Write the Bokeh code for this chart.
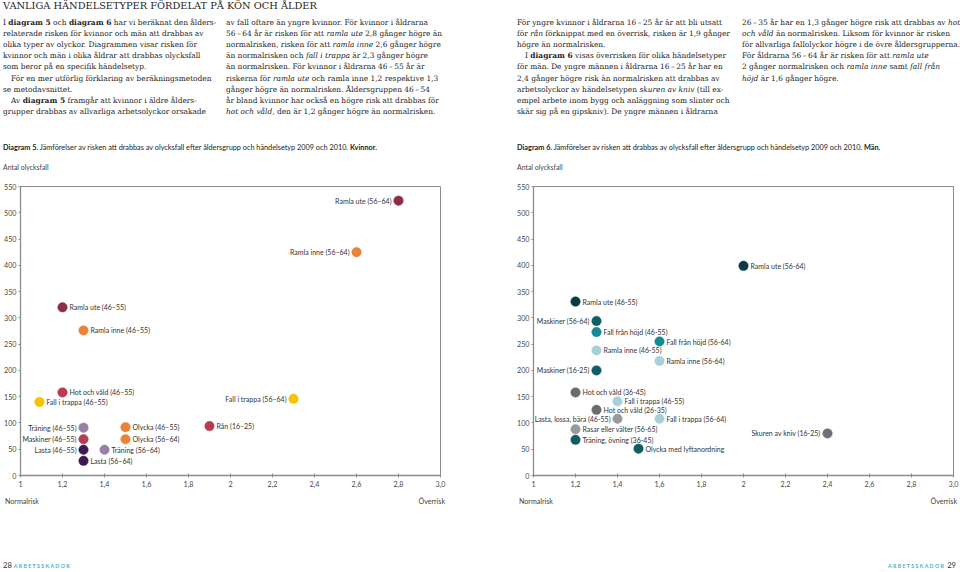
from bokeh.plotting import figure
from bokeh.models import Range1d, Div, FixedTicker, ColumnDataSource
from bokeh.layouts import column, row
from bokeh.core.properties import value
from bokeh.embed import file_html
from bokeh.resources import INLINE

# ---------------- Data: Diagram 5 (Kvinnor) ----------------
labels5 = ["Ramla ute (56–64)", "Ramla inne (56–64)", "Ramla ute (46–55)", "Ramla inne (46–55)",
           "Hot och våld (46–55)", "Fall i trappa (46–55)", "Fall i trappa (56–64)",
           "Träning (46–55)", "Maskiner (46–55)", "Lasta (46–55)", "Lasta (56–64)",
           "Träning (56–64)", "Olycka (46–55)", "Olycka (56–64)", "Rån (16–25)"]
types5 = ["Ramla ute", "Ramla inne", "Ramla ute", "Ramla inne", "Hot och våld", "Fall i trappa",
          "Fall i trappa", "Träning", "Maskiner", "Lasta", "Lasta", "Träning", "Olycka", "Olycka", "Rån"]
risk5 = [2.8, 2.6, 1.2, 1.3, 1.2, 1.09, 2.3, 1.3, 1.3, 1.3, 1.3, 1.4, 1.5, 1.5, 1.9]
count5 = [523, 425, 320, 276, 158, 140, 146, 91, 69, 49, 28, 49, 92, 69, 94]

# ---------------- Data: Diagram 6 (Män) ----------------
labels6 = ["Ramla ute (56-64)", "Ramla ute (46-55)", "Maskiner (56-64)", "Fall från höjd (46-55)",
           "Fall från höjd (56-64)", "Ramla inne (46-55)", "Ramla inne (56-64)", "Maskiner (16-25)",
           "Hot och våld (36-45)", "Fall i trappa (46-55)", "Hot och våld (26-35)",
           "Lasta, lossa, bära (46-55)", "Fall i trappa (56-64)", "Rasar eller välter (56-65)",
           "Träning, övning (36-45)", "Olycka med lyftanordning", "Skuren av kniv (16-25)"]
types6 = ["Ramla ute", "Ramla ute", "Maskiner", "Fall från höjd", "Fall från höjd", "Ramla inne",
          "Ramla inne", "Maskiner", "Hot och våld", "Fall i trappa", "Hot och våld",
          "Lasta, lossa, bära", "Fall i trappa", "Rasar eller välter", "Träning, övning",
          "Olycka med lyftanordning", "Skuren av kniv"]
risk6 = [2.0, 1.2, 1.3, 1.3, 1.6, 1.3, 1.6, 1.3, 1.2, 1.4, 1.3, 1.4, 1.6, 1.2, 1.2, 1.5, 2.4]
count6 = [399, 331, 294, 273, 255, 238, 218, 200, 158, 141, 125, 108, 108, 88, 68, 51, 80]

x_ticks = [1.0, 1.2, 1.4, 1.6, 1.8, 2.0, 2.2, 2.4, 2.6, 2.8, 3.0]
x_tick_labels = ["1", "1,2", "1,4", "1,6", "1,8", "2", "2,2", "2,4", "2,6", "2,8", "3,0"]
y_ticks = [0, 50, 100, 150, 200, 250, 300, 350, 400, 450, 500, 550]

# ---------------- Styles ----------------
colors5 = {"Ramla ute": "#8c2e45", "Ramla inne": "#e8833a", "Hot och våld": "#b93b52",
           "Fall i trappa": "#f6c300", "Träning": "#9a7fa7", "Maskiner": "#b93b52",
           "Lasta": "#3f1953", "Olycka": "#e8833a", "Rån": "#b93b52"}
colors6 = {"Ramla ute": "#0b3a45", "Maskiner": "#0e5e66", "Fall från höjd": "#148b94",
           "Ramla inne": "#a8d0d9", "Hot och våld": "#6b6b6b", "Fall i trappa": "#a8d0d9",
           "Lasta, lossa, bära": "#9a9a9a", "Rasar eller välter": "#9a9a9a",
           "Träning, övning": "#0e5e66", "Olycka med lyftanordning": "#0e5e66",
           "Skuren av kniv": "#707070"}
sides5 = ["left", "left", "right", "right", "right", "right", "left", "left", "left", "left",
          "right", "right", "right", "right", "right"]
sides6 = ["right", "right", "left", "right", "right", "right", "right", "left", "right", "right",
          "right", "left", "right", "right", "right", "right", "left"]

SANS = "Lato"
AX = "#8c8c8c"


def make_chart(risk, count, labels, types, colors, sides, mb_left, mb_right):
    p = figure(width=480, height=320, x_range=Range1d(1, 3), y_range=Range1d(0, 550),
               output_backend="svg", toolbar_location=None,
               min_border_left=mb_left, min_border_right=mb_right,
               min_border_top=10, min_border_bottom=21, margin=0)
    p.background_fill_color = "white"
    p.border_fill_color = "white"
    p.outline_line_color = AX
    p.outline_line_width = 1
    p.grid.visible = False

    p.xaxis.ticker = FixedTicker(ticks=x_ticks)
    p.xaxis.major_label_overrides = dict(zip(x_ticks, x_tick_labels))
    p.yaxis.ticker = FixedTicker(ticks=y_ticks)
    for ax in (p.xaxis[0], p.yaxis[0]):
        ax.axis_line_color = AX
        ax.axis_line_width = 1.3
        ax.major_tick_line_color = AX
        ax.minor_tick_line_color = None
        ax.major_label_text_font = SANS
        ax.major_label_text_font_size = "7.2px"
        ax.major_label_text_color = "#4a4a4a"
    p.xaxis.major_tick_in = 2
    p.xaxis.major_tick_out = 2
    p.xaxis.major_label_standoff = 3
    p.yaxis.major_tick_in = 0
    p.yaxis.major_tick_out = 2
    p.yaxis.major_label_standoff = 2

    src = ColumnDataSource(dict(x=risk, y=count, c=[colors[t] for t in types]))
    p.scatter(x="x", y="y", source=src, size=9.5, fill_color="c", line_color="c",
              line_width=0.5)

    for side, off, align in (("left", -7, "right"), ("right", 7, "left")):
        idx = [i for i, s in enumerate(sides) if s == side]
        s2 = ColumnDataSource(dict(x=[risk[i] for i in idx], y=[count[i] for i in idx],
                                   t=[labels[i] for i in idx]))
        p.text(x="x", y="y", text="t", source=s2, x_offset=off, text_align=align,
               text_baseline="middle", text_font=value(SANS), text_font_size="7px",
               text_color="#333333")
    return p


p5 = make_chart(risk5, count5, labels5, types5, colors5, sides5, 19, 40)
p6 = make_chart(risk6, count6, labels6, types6, colors6, sides6, 53, 7)

# ---------------- Page text ----------------
SERIF = "'DejaVu Serif', serif"
T = "&thinsp;–&thinsp;"
IND = "<span style='padding-left:8px'></span>"

col1 = ["I <b>diagram 5</b> och <b>diagram 6</b> har vi beräknat den ålders-",
        "relaterade risken för kvinnor och män att drabbas av",
        "olika typer av olyckor. Diagrammen visar risken för",
        "kvinnor och män i olika åldrar att drabbas olycksfall",
        "som beror på en specifik händelsetyp.",
        IND + "För en mer utförlig förklaring av beräkningsmetoden",
        "se metodavsnittet.",
        IND + "Av <b>diagram 5</b> framgår att kvinnor i äldre ålders-",
        "grupper drabbas av allvarliga arbetsolyckor orsakade"]
col2 = ["av fall oftare än yngre kvinnor. För kvinnor i åldrarna",
        f"56{T}64 år är risken för att <i>ramla ute</i> 2,8 gånger högre än",
        "normalrisken, risken för att <i>ramla inne</i> 2,6 gånger högre",
        "än normalrisken och <i>fall i trappa</i> är 2,3 gånger högre",
        f"än normalrisken. För kvinnor i åldrarna 46{T}55 år är",
        "riskerna för <i>ramla ute</i> och ramla inne 1,2 respektive 1,3",
        f"gånger högre än normalrisken. Åldersgruppen 46{T}54",
        "år bland kvinnor har också en högre risk att drabbas för",
        "<i>hot och våld</i>, den är 1,2 gånger högre än normalrisken."]
col3 = [f"För yngre kvinnor i åldrarna 16{T}25 år är att bli utsatt",
        "för <i>rån</i> förknippat med en överrisk, risken är 1,9 gånger",
        "högre än normalrisken.",
        IND + "I <b>diagram 6</b> visas överrisken för olika händelsetyper",
        f"för män. De yngre männen i åldrarna 16{T}25 år har en",
        "2,4 gånger högre risk än normalrisken att drabbas av",
        "arbetsolyckor av händelsetypen <i>skuren av kniv</i> (till ex-",
        "empel arbete inom bygg och anläggning som slinter och",
        "skär sig på en gipskniv). De yngre männen i åldrarna"]
col4 = [f"26{T}35 år har en 1,3 gånger högre risk att drabbas av <i>hot</i>",
        "<i>och våld</i> än normalrisken. Liksom för kvinnor är risken",
        "för allvarliga fallolyckor högre i de övre åldersgrupperna.",
        f"För åldrarna 56{T}64 år är risken för att <i>ramla ute</i>",
        "2 gånger normalrisken och <i>ramla inne</i> samt <i>fall från</i>",
        "<i>höjd</i> är 1,6 gånger högre."]


def lines_html(lines, left, top0, lh, fs):
    out = ""
    for i, ln in enumerate(lines):
        out += (f"<div style=\"position:absolute;left:{left}px;top:{top0 + i * lh:.2f}px;"
                f"white-space:nowrap;font-family:{SERIF};font-size:{fs}px;"
                f"line-height:{lh}px;color:#1e1e1e\">{ln}</div>")
    return out


def abs_text(txt, left, top, fs, color="#333", right=None):
    pos = f"left:{left}px;" if right is None else f"right:{right}px;"
    return (f"<div style=\"position:absolute;{pos}top:{top}px;white-space:nowrap;"
            f"font-family:{SANS};font-size:{fs}px;line-height:9px;color:{color}\">{txt}</div>")


LH = 11.1
FS = 7.45
TOP0 = 17
head = "<div style=\"position:relative;width:960px;height:176px;overflow:visible\">"
head += (f"<div style=\"position:absolute;left:3px;top:0px;white-space:nowrap;font-family:{SERIF};"
         f"font-size:9.8px;line-height:12px;color:#1e1e1e\">VANLIGA HÄNDELSETYPER FÖRDELAT PÅ KÖN OCH ÅLDER</div>")
head += lines_html(col1, 3, TOP0, LH, FS)
head += lines_html(col2, 226, TOP0, LH, FS)
head += lines_html(col3, 517, TOP0, LH, FS)
head += lines_html(col4, 742, TOP0, LH, FS)
head += abs_text("<b>Diagram 5.</b> Jämförelser av risken att drabbas av olycksfall efter åldersgrupp "
                 "och händelsetyp 2009 och 2010. <b>Kvinnor.</b>", 3, 142.5, 7.3, "#222")
head += abs_text("<b>Diagram 6.</b> Jämförelser av risken att drabbas av olycksfall efter åldersgrupp "
                 "och händelsetyp 2009 och 2010. <b>Män.</b>", 517, 142.5, 7.3, "#222")
head += abs_text("Antal olycksfall", 3, 162.5, 6.9, "#444")
head += abs_text("Antal olycksfall", 517, 162.5, 6.9, "#444")
head += "</div>"

ABS = "<span style='color:#4fb0bd;font-size:5.3px;font-weight:bold;letter-spacing:1.3px'>ARBETSSKADOR</span>"
foot = "<div style=\"position:relative;width:960px;height:75px;overflow:visible\">"
foot += abs_text("Normalrisk", 5, 0.5, 7.1, "#444")
foot += abs_text("Överrisk", 0, 0.5, 7.1, "#444", right=960 - 445)
foot += abs_text("Normalrisk", 519, 0.5, 7.1, "#444")
foot += abs_text("Överrisk", 0, 0.5, 7.1, "#444", right=3)
foot += abs_text("28 " + ABS, 3, 65, 7.6, "#333")
foot += abs_text(ABS + " 29", 0, 65, 7.6, "#333", right=4)
foot += "</div>"

header_div = Div(text=head, width=960, height=176, margin=0)
footer_div = Div(text=foot, width=960, height=75, margin=0)

layout = column(header_div, row(p5, p6, spacing=0, margin=0), footer_div, spacing=0, margin=0)

open("out.html", "w").write(file_html(layout, INLINE))
